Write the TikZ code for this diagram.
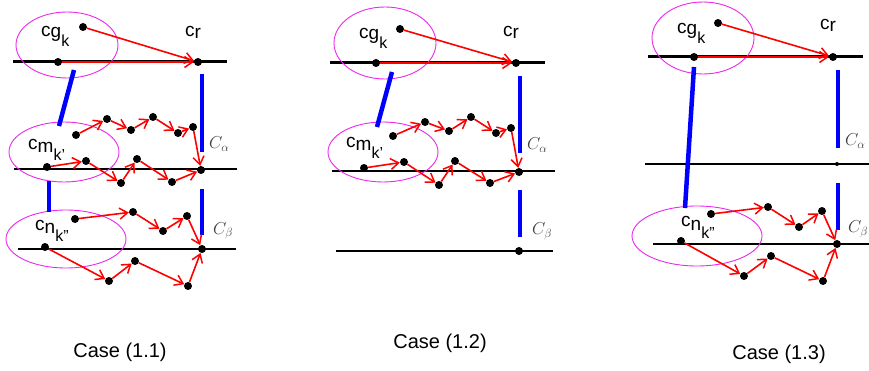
\documentclass[tikz,border=0pt]{standalone}
\usepackage{fontspec}
\setmainfont{Liberation Sans}
\usetikzlibrary{arrows.meta}
\definecolor{mag}{RGB}{235,40,235}
\tikzset{
  dot/.style={circle,fill=black,inner sep=0pt,minimum size=8pt},
  sdot/.style={circle,fill=black,inner sep=0pt,minimum size=4pt},
  rar/.style={draw=red,line width=1.6pt,-{Straight Barb[length=8pt,width=11pt,line width=1.5pt]}},
  rthick/.style={draw=red,line width=2.2pt,-{Straight Barb[length=8pt,width=11pt,line width=1.5pt]}},
  topline/.style={draw=black,line width=3pt},
  hline/.style={draw=black,line width=1.7pt},
  bluebar/.style={draw=blue,line width=4.5pt},
  ell/.style={draw=mag,line width=0.9pt},
  lab/.style={anchor=base west,inner sep=0pt,font=\fontsize{19}{19}\selectfont},
  glab/.style={anchor=base west,inner sep=0pt,text=black!75,font=\fontsize{17}{17}\selectfont},
  casecap/.style={inner sep=0pt,font=\fontsize{20}{20}\selectfont}
}
\newcommand{\cgk}{c\raisebox{-1pt}{g}\raisebox{-10pt}{\fontsize{16}{16}\selectfont k}}
\newcommand{\cmk}{c\raisebox{-3pt}{m}\raisebox{-11pt}{\fontsize{16}{16}\selectfont k'}}
\newcommand{\cnk}{c\raisebox{-3pt}{n}\raisebox{-11pt}{\fontsize{16}{16}\selectfont k"}}
\newcommand{\crr}{c\raisebox{-2pt}{r}}
\begin{document}
\begin{tikzpicture}[x=1pt,y=-1pt]
\useasboundingbox (0,0) rectangle (869,371);
\clip (0,0) rectangle (869,371);

%%%%%%%%%%%%%%%% Panel 1
\coordinate (T1a) at (13,62); \coordinate (T1b) at (227,62);
\coordinate (M1a) at (14,169); \coordinate (M1b) at (237,169);
\coordinate (B1a) at (18,249); \coordinate (B1b) at (236,249);
\draw[topline] (T1a) -- (T1b);
\draw[hline] (M1a) -- (M1b);
\draw[hline] (B1a) -- (B1b);
\draw[ell] (67,45) ellipse (51 and 33);
\draw[ell] (64,152) ellipse (55 and 30);
\draw[ell] (66,239) ellipse (60 and 29);
\coordinate (k1a) at (74,70); \coordinate (k1b) at (59,126);
\coordinate (k1c) at (49,181); \coordinate (k1d) at (49,212);
\coordinate (v1a) at (202,74); \coordinate (v1b) at (202,152);
\coordinate (v1c) at (202,189); \coordinate (v1d) at (202,235);
\draw[bluebar] (k1a) -- (k1b);
\draw[bluebar] (k1c) -- (k1d);
\draw[bluebar] (v1a) -- (v1b);
\draw[bluebar] (v1c) -- (v1d);
\node[dot] (g1) at (83,27) {};
\node[dot] (r1) at (198,62) {};
\node[dot] (s1) at (58,62) {};
\node[dot] (ua1) at (76,135) {};
\node[dot] (ua2) at (107,119) {};
\node[dot] (ua3) at (131,130) {};
\node[dot] (ua4) at (153,117) {};
\node[dot] (ua5) at (178,133) {};
\node[dot] (ua6) at (193,127) {};
\node[dot] (m1) at (201,170) {};
\node[dot] (wa1) at (47,167) {};
\node[dot] (wa2) at (86,161) {};
\node[dot] (wa3) at (121,183) {};
\node[dot] (wa4) at (137,159) {};
\node[dot] (wa5) at (172,182) {};
\node[dot] (pa1) at (75,219) {};
\node[dot] (pa2) at (133,212) {};
\node[dot] (pa3) at (163,231) {};
\node[dot] (pa4) at (187,216) {};
\node[dot] (b1) at (202,249) {};
\node[dot] (qa1) at (45,247) {};
\node[dot] (qa2) at (109,281) {};
\node[dot] (qa3) at (135,261) {};
\node[dot] (qa4) at (188,286) {};
\draw[rar] (g1) -- (r1);
\draw[rthick] (s1) -- (r1);
\draw[rar] (ua1) -- (ua2); \draw[rar] (ua2) -- (ua3); \draw[rar] (ua3) -- (ua4);
\draw[rar] (ua4) -- (ua5); \draw[rar] (ua5) -- (ua6); \draw[rar] (ua6) -- (m1);
\draw[rar] (wa1) -- (wa2); \draw[rar] (wa2) -- (wa3); \draw[rar] (wa3) -- (wa4);
\draw[rar] (wa4) -- (wa5); \draw[rar] (wa5) -- (m1);
\draw[rar] (pa1) -- (pa2); \draw[rar] (pa2) -- (pa3); \draw[rar] (pa3) -- (pa4);
\draw[rar] (pa4) -- (b1);
\draw[rar] (qa1) -- (qa2); \draw[rar] (qa2) -- (qa3); \draw[rar] (qa3) -- (qa4);
\draw[rar] (qa4) -- (b1);
\node[lab] (lg1) at (41,37) {\cgk};
\node[lab] (lr1) at (185,37) {\crr};
\node[lab] (lm1) at (28,150) {\cmk};
\node[lab] (ln1) at (35,230) {\cnk};
\node[glab] (la1) at (209,149) {$C_\alpha$};
\node[glab] (lb1) at (213,234) {$C_\beta$};
\node[casecap] (cap1) at (120,352) {Case (1.1)};

%%%%%%%%%%%%%%%% Panel 2
\coordinate (T2a) at (330,63); \coordinate (T2b) at (545,63);
\coordinate (M2a) at (332,171); \coordinate (M2b) at (555,171);
\coordinate (B2a) at (336,251); \coordinate (B2b) at (553,251);
\draw[topline] (T2a) -- (T2b);
\draw[hline] (M2a) -- (M2b);
\draw[hline] (B2a) -- (B2b);
\draw[ell] (385,43) ellipse (51 and 36);
\draw[ell] (383,152) ellipse (55 and 30);
\coordinate (k2a) at (392,72); \coordinate (k2b) at (377,127);
\coordinate (v2a) at (520,76); \coordinate (v2b) at (520,153);
\coordinate (v2c) at (520,190); \coordinate (v2d) at (520,237);
\draw[bluebar] (k2a) -- (k2b);
\draw[bluebar] (v2a) -- (v2b);
\draw[bluebar] (v2c) -- (v2d);
\node[dot] (g2) at (400,29) {};
\node[dot] (r2) at (516,63) {};
\node[dot] (s2) at (376,63) {};
\node[dot] (ub1) at (393,136) {};
\node[dot] (ub2) at (425,122) {};
\node[dot] (ub3) at (449,131) {};
\node[dot] (ub4) at (471,117) {};
\node[dot] (ub5) at (496,133) {};
\node[dot] (ub6) at (511,128) {};
\node[dot] (m2) at (519,172) {};
\node[dot] (wb1) at (364,168) {};
\node[dot] (wb2) at (404,162) {};
\node[dot] (wb3) at (439,185) {};
\node[dot] (wb4) at (455,161) {};
\node[dot] (wb5) at (490,183) {};
\node[dot] (b2) at (519,251) {};
\draw[rar] (g2) -- (r2);
\draw[rthick] (s2) -- (r2);
\draw[rar] (ub1) -- (ub2); \draw[rar] (ub2) -- (ub3); \draw[rar] (ub3) -- (ub4);
\draw[rar] (ub4) -- (ub5); \draw[rar] (ub5) -- (ub6); \draw[rar] (ub6) -- (m2);
\draw[rar] (wb1) -- (wb2); \draw[rar] (wb2) -- (wb3); \draw[rar] (wb3) -- (wb4);
\draw[rar] (wb4) -- (wb5); \draw[rar] (wb5) -- (m2);
\node[lab] (lg2) at (359,39) {\cgk};
\node[lab] (lr2) at (503,37) {\crr};
\node[lab] (lm2) at (346,148) {\cmk};
\node[glab] (la2) at (527,150) {$C_\alpha$};
\node[glab] (lb2) at (532,235) {$C_\beta$};
\node[casecap] (cap2) at (440,343) {Case (1.2)};

%%%%%%%%%%%%%%%% Panel 3
\coordinate (T3a) at (648,57); \coordinate (T3b) at (863,57);
\coordinate (M3a) at (645,164); \coordinate (M3b) at (869,164);
\coordinate (B3a) at (653,244); \coordinate (B3b) at (869,244);
\draw[topline] (T3a) -- (T3b);
\draw[hline] (M3a) -- (M3b);
\draw[hline] (B3a) -- (B3b);
\draw[ell] (703,38) ellipse (51 and 36);
\draw[ell] (697,236) ellipse (65 and 30);
\coordinate (k3a) at (694,67); \coordinate (k3b) at (685,208);
\coordinate (v3a) at (838,70); \coordinate (v3b) at (838,148);
\coordinate (v3c) at (838,183); \coordinate (v3d) at (838,230);
\draw[bluebar] (k3a) -- (k3b);
\draw[bluebar] (v3a) -- (v3b);
\draw[bluebar] (v3c) -- (v3d);
\node[sdot] (x3) at (837,164) {};
\node[dot] (g3) at (718,23) {};
\node[dot] (r3) at (833,57) {};
\node[dot] (s3) at (694,57) {};
\node[dot] (pc1) at (711,214) {};
\node[dot] (pc2) at (768,207) {};
\node[dot] (pc3) at (799,227) {};
\node[dot] (pc4) at (822,211) {};
\node[dot] (b3) at (837,244) {};
\node[dot] (qc1) at (681,241) {};
\node[dot] (qc2) at (744,276) {};
\node[dot] (qc3) at (771,256) {};
\node[dot] (qc4) at (823,281) {};
\draw[rar] (g3) -- (r3);
\draw[rthick] (s3) -- (r3);
\draw[rar] (pc1) -- (pc2); \draw[rar] (pc2) -- (pc3); \draw[rar] (pc3) -- (pc4);
\draw[rar] (pc4) -- (b3);
\draw[rar] (qc1) -- (qc2); \draw[rar] (qc2) -- (qc3); \draw[rar] (qc3) -- (qc4);
\draw[rar] (qc4) -- (b3);
\node[lab] (lg3) at (677,34) {\cgk};
\node[lab] (lr3) at (820,30) {\crr};
\node[lab] (ln3) at (681,227) {\cnk};
\node[glab] (la3) at (845,146) {$C_\alpha$};
\node[glab] (lb3) at (848,233) {$C_\beta$};
\node[casecap] (cap3) at (779,354) {Case (1.3)};
\end{tikzpicture}
\end{document}
